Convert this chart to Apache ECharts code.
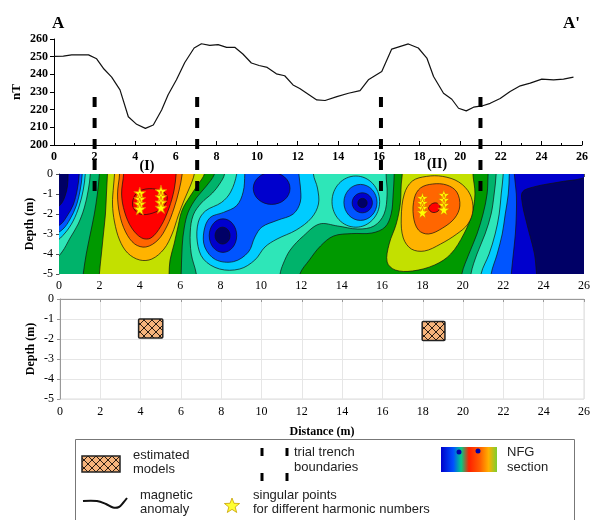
<!DOCTYPE html>
<html>
<head>
<meta charset="utf-8">
<script src="https://cdn.jsdelivr.net/npm/echarts@6/dist/echarts.min.js"></script>
<style>
html, body { margin: 0; padding: 0; background: #fff; }
#main { width: 593px; height: 520px; }
</style>
</head>
<body>
<div id="main"></div>
<script>
// magnetic anomaly along A-A' (distance in m, field in nT)
const magX = [0, 0.46, 0.87, 1.7, 2.1, 2.46, 2.84, 3.25, 3.66, 4.07, 4.5, 4.89, 5.3, 5.62, 6.03, 6.44, 6.9, 7.26, 7.67, 8.08, 8.5, 8.9, 9.3, 9.72, 10.1, 10.5, 10.95, 11.36, 11.77, 12.1, 12.94, 13.35, 13.93, 14.5, 15.07, 15.48, 16.14, 16.63, 17.45, 17.94, 18.36, 18.69, 19.18, 19.59, 19.92, 20.3, 20.66, 21.07, 21.48, 21.97, 22.46, 22.96, 23.45, 24.02, 24.6, 25.09, 25.58];
const magNT = [250.2, 250.3, 251, 251, 248.8, 243, 238.4, 231.2, 216, 211.7, 209.4, 211.3, 219.8, 228.4, 236.9, 246.7, 254.9, 257.3, 256.4, 256.8, 255.3, 255.3, 251.5, 246.4, 245, 243.9, 240.3, 239.2, 234, 232, 225.5, 225.2, 227.4, 229.3, 230.8, 236.9, 241.6, 254.3, 257.2, 254.9, 249.2, 238.8, 229.3, 225.9, 220.8, 219.3, 221.4, 222.1, 223.6, 226.3, 230.3, 233.5, 235, 237.3, 236.9, 237.3, 238.4];

// trial trench boundaries (m) and the nT span the dashed marks cover
const trenchX = [2, 7.05, 16.1, 21];
const trenchSpan = [227.2, 173.4];

// NFG section colour bands, low to high
const bandColors = ['#000066', '#0000CD', '#0055FF', '#00CCFF', '#2EE6B8', '#00B36B', '#009900', '#C3E000', '#FFB300', '#FF6600', '#FF0000', '#FF0000'];
const baseBand = 5;

// band outlines as [distance, depth] vertices (points outside the frame get clipped)
const low4L = [[-1, 1], [1.55, 1], [1.55, 0], [1.45, -0.8], [1.25, -1.7], [0.95, -2.5], [0.55, -3.2], [0.15, -3.9], [-0.3, -4.35], [-1, -4.6]];
const low3L = [[-1, 1], [1.3, 1], [1.3, 0], [1.2, -0.8], [1.0, -1.6], [0.7, -2.35], [0.3, -2.95], [-0.2, -3.4], [-1, -3.6]];
const low2L = [[-1, 1], [1.15, 1], [1.15, 0], [1.05, -0.8], [0.85, -1.6], [0.55, -2.25], [0.2, -2.75], [-0.3, -3.05], [-1, -3.15]];
const low1L = [[-1, 1], [1.0, 1], [1.0, 0], [0.9, -0.8], [0.7, -1.55], [0.4, -2.1], [0.1, -2.5], [-0.4, -2.75], [-1, -2.85]];
const low0L = [[-1, 1], [0.45, 1], [0.45, 0], [0.42, -0.6], [0.3, -1.1], [0.1, -1.5], [-0.3, -1.8], [-1, -1.9]];

const high6I = [[2.05, 1], [7.9, 1], [7.7, 0], [7.3, -0.6], [6.8, -1.2], [6.4, -1.9], [6.2, -2.7], [6.1, -3.6], [6.05, -5], [6.0, -6], [1.1, -6], [1.2, -5], [1.35, -4], [1.55, -3], [1.75, -2], [1.9, -1], [2.0, 0]];
const high7I = [[2.45, 1], [7.35, 1], [7.2, 0], [6.9, -0.5], [6.5, -1.1], [6.1, -1.8], [5.9, -2.6], [5.7, -3.5], [5.5, -4.3], [5.45, -5], [5.4, -6], [1.95, -6], [2.0, -5], [2.1, -4], [2.2, -3], [2.3, -2], [2.35, -1], [2.4, 0]];
const high8I = [[2.75, 1], [6.8, 1], [6.7, 0], [6.5, -0.6], [6.2, -1.3], [5.9, -2.1], [5.6, -3.0], [5.2, -3.75], [4.6, -4.25], [4.0, -4.3], [3.4, -3.95], [3.0, -3.3], [2.75, -2.4], [2.65, -1.5], [2.7, -0.6], [2.75, 0]];
const high9I = [[3.0, 1], [6.15, 1], [6.1, 0], [5.95, -0.8], [5.7, -1.7], [5.35, -2.6], [4.9, -3.3], [4.3, -3.65], [3.75, -3.5], [3.3, -2.9], [3.0, -2.0], [2.9, -1.0], [3.0, 0]];
const high10I = [[3.2, 1], [5.85, 1], [5.8, 0], [5.7, -0.8], [5.45, -1.7], [5.05, -2.6], [4.55, -3.2], [4.1, -3.2], [3.6, -2.7], [3.25, -1.9], [3.1, -1.0], [3.2, 0]];
const high11I = [[3.65, -1.6], [3.8, -1.0], [4.3, -0.75], [4.95, -0.8], [5.35, -1.1], [5.2, -1.6], [4.65, -1.95], [4.0, -2.0]];

const high6II = [[16.6, 1], [21.3, 1], [21.25, 0], [21.2, -1], [21.0, -2], [20.7, -3], [20.3, -4], [19.95, -5], [19.9, -6], [11.8, -6], [11.93, -5], [12.4, -4.3], [12.95, -3.6], [13.6, -3.1], [14.5, -2.98], [15.5, -2.95], [16.15, -2.65], [16.45, -2.0], [16.55, -1.0], [16.6, 0]];
const high7II = [[17.0, 1], [20.5, 1], [20.5, 0], [20.6, -1], [20.45, -2], [20.05, -3], [19.4, -4], [18.6, -4.55], [17.5, -4.85], [16.65, -4.8], [16.25, -4.4], [16.35, -3.5], [16.7, -2.5], [16.9, -1.5], [16.95, -0.5], [17.0, 0]];
const high8II = [[17.1, -1.0], [17.5, -0.35], [18.2, -0.12], [19.0, -0.12], [19.8, -0.4], [20.35, -1.0], [20.5, -1.8], [20.25, -2.5], [19.7, -3.0], [18.9, -3.5], [18.1, -3.85], [17.45, -3.75], [17.05, -3.2], [16.95, -2.2]];
const high9II = [[17.6, -1.2], [17.9, -0.7], [18.5, -0.5], [19.2, -0.55], [19.7, -0.9], [19.85, -1.6], [19.6, -2.2], [19.0, -2.7], [18.3, -3.0], [17.8, -2.8], [17.55, -2.1]];
const high10II = [[18.3, -1.72], [18.45, -1.5], [18.7, -1.45], [18.87, -1.6], [18.78, -1.85], [18.5, -1.92]];

const low4M = [[8.25, 1], [16.25, 1], [16.2, 0], [16.25, -1.0], [16.1, -2.0], [15.6, -2.6], [14.8, -2.75], [13.8, -2.6], [12.9, -2.5], [12.1, -3.1], [11.45, -3.8], [11.1, -4.5], [10.95, -5], [10.9, -6], [6.85, -6], [6.8, -5], [6.55, -4.0], [6.5, -2.9], [6.65, -2.05], [7.05, -1.45], [7.6, -0.95], [7.95, -0.5], [8.2, 0]];
const low3M = [[8.85, 1], [12.65, 1], [12.6, 0], [12.8, -0.7], [12.85, -1.5], [12.5, -2.2], [11.75, -2.8], [10.8, -3.25], [10.2, -3.65], [9.7, -4.3], [8.95, -4.75], [7.95, -4.75], [7.15, -4.25], [6.85, -3.4], [6.9, -2.4], [7.25, -1.85], [8.05, -1.42], [8.5, -0.9], [8.8, 0]];
const low2M = [[9.2, 1], [11.9, 1], [11.88, 0], [11.95, -0.6], [11.95, -1.4], [11.6, -2.0], [10.8, -2.32], [10.05, -2.65], [9.7, -3.15], [9.38, -3.9], [8.65, -4.38], [7.75, -4.28], [7.22, -3.65], [7.18, -2.85], [7.48, -2.18], [8.15, -1.92], [8.8, -1.58], [9.12, -0.9], [9.2, 0]];

const low4R = [[21.65, 1], [27, 1], [27, -6], [20.35, -6], [20.4, -5], [20.7, -4], [21.1, -3], [21.4, -2], [21.55, -1], [21.65, 0]];
const low3R = [[22.0, 1], [27, 1], [27, -6], [20.85, -6], [20.9, -5], [21.3, -4], [21.6, -3], [21.8, -2], [21.9, -1], [22.0, 0]];
const low2R = [[22.3, 1], [27, 1], [27, -6], [21.35, -6], [21.4, -5], [21.7, -4], [21.95, -3], [22.1, -2], [22.25, -1], [22.3, 0]];
const low1R = [[22.55, 1], [27, 1], [27, -6], [22.35, -6], [22.4, -5], [22.5, -4], [22.6, -3], [22.65, -2], [22.65, -1], [22.55, 0]];
const low0R = [[22.95, -0.9], [23.5, -0.65], [24.5, -0.45], [25.5, -0.3], [27, -0.2], [27, -6], [23.75, -6], [23.65, -5], [23.55, -4], [23.3, -3], [23.1, -2.2], [22.95, -1.5]];

// closed lows: [centre x, centre depth, radius x, radius depth, band]
const lowBlobs = [
  [10.53, -0.72, 0.91, 0.8, 1],
  [8.12, -3.08, 0.68, 0.84, 1],
  [8.1, -3.08, 0.37, 0.42, 0],
  [14.7, -1.38, 1.18, 1.28, 3],
  [14.93, -1.42, 0.82, 0.9, 2],
  [15.02, -1.44, 0.5, 0.5, 1],
  [15.03, -1.45, 0.23, 0.23, 0]
];

const bandShapes = [
  [4, low4L], [3, low3L], [2, low2L], [1, low1L], [0, low0L],
  [6, high6I], [7, high7I], [8, high8I], [9, high9I], [10, high10I], [11, high11I],
  [6, high6II], [7, high7II], [8, high8II], [9, high9II], [10, high10II],
  [4, low4M], [3, low3M], [2, low2M],
  [4, low4R], [3, low3R], [2, low2R], [1, low1R], [0, low0R]
];

// singular points (distance, depth)
const singularPts = [
  [4.0, -0.95], [4.0, -1.25], [4.0, -1.5], [4.0, -1.75],
  [5.05, -0.85], [5.05, -1.15], [5.05, -1.42], [5.05, -1.68],
  [18.0, -1.2], [18.0, -1.45], [18.0, -1.7], [18.0, -1.92],
  [19.06, -1.05], [19.06, -1.3], [19.06, -1.55], [19.06, -1.78]
];

// estimated models: [x from, x to, depth top, depth bottom]
const modelBoxes = [[3.9, 5.1, -1.0, -1.95], [17.97, 19.1, -1.12, -2.08]];

// draw order: base, highs going up, then lows going down
const layers = [{ band: baseBand, pts: [[-1, 1], [27, 1], [27, -6], [-1, -6]], base: true }];
bandShapes.forEach(s => layers.push({ band: s[0], pts: s[1] }));
lowBlobs.forEach(b => layers.push({ band: b[4], ell: b }));
const orderKey = l => l.base ? -1 : (l.band > baseBand ? l.band : 100 - l.band);
layers.sort((a, b) => orderKey(a) - orderKey(b));

const SERIF = 'Liberation Serif';
const starPath = 'path://M50,0 L61,35 L98,35 L68,57 L79,91 L50,70 L21,91 L32,57 L2,35 L39,35 Z';

function hatch() {
  const c = document.createElement('canvas');
  c.width = 8; c.height = 8;
  const g = c.getContext('2d');
  g.fillStyle = '#F6B47C';
  g.fillRect(0, 0, 8, 8);
  g.strokeStyle = '#2b1d12';
  g.lineWidth = 1;
  g.beginPath();
  g.moveTo(0, 0); g.lineTo(8, 8);
  g.moveTo(8, 0); g.lineTo(0, 8);
  g.stroke();
  return c;
}
const hatchFill = { image: hatch(), repeat: 'repeat' };

function starPoints(cx, cy, r) {
  const pts = [];
  for (let i = 0; i < 10; i++) {
    const a = -Math.PI / 2 + i * Math.PI / 5;
    const rr = i % 2 ? r * 0.42 : r;
    pts.push([cx + rr * Math.cos(a), cy + rr * Math.sin(a)]);
  }
  return pts;
}

const label = (bold) => ({ fontFamily: SERIF, fontSize: 12, color: '#000', fontWeight: bold ? 'bold' : 'normal' });

const chart = echarts.init(document.getElementById('main'));

chart.setOption({
  animation: false,
  grid: [
    { left: 54, top: 39, width: 528, height: 106 },
    { left: 59, top: 174, width: 526, height: 100 },
    { left: 60, top: 299, width: 527, height: 100, show: true, borderColor: '#dcdcdc', borderWidth: 1 }
  ],
  xAxis: [
    {
      gridIndex: 0, type: 'value', min: 0, max: 26, interval: 2,
      axisLine: { lineStyle: { color: '#000' } },
      axisTick: { inside: true, length: 4, lineStyle: { color: '#000' } },
      minorTick: { show: true, splitNumber: 2, length: 2, lineStyle: { color: '#000' } },
      axisLabel: Object.assign({ margin: 6 }, label(true)),
      splitLine: { show: false }
    },
    {
      gridIndex: 1, type: 'value', min: 0, max: 26, interval: 2,
      axisLine: { lineStyle: { color: '#555' } },
      axisTick: { length: 3, lineStyle: { color: '#555' } },
      axisLabel: Object.assign({ margin: 6 }, label(false)),
      splitLine: { show: false }
    },
    {
      gridIndex: 2, type: 'value', min: 0, max: 26, interval: 2,
      axisLine: { lineStyle: { color: '#999' } },
      axisTick: { length: 3, lineStyle: { color: '#999' } },
      axisLabel: Object.assign({ margin: 7 }, label(false)),
      splitLine: { show: true, lineStyle: { color: '#e6e6e6' } },
      name: 'Distance (m)', nameLocation: 'middle', nameGap: 27, nameMoveOverlap: false,
      nameTextStyle: label(true)
    }
  ],
  yAxis: [
    {
      gridIndex: 0, type: 'value', min: 200, max: 260, interval: 10,
      axisLine: { show: true, lineStyle: { color: '#000' } },
      axisTick: { show: true, length: 4, lineStyle: { color: '#000' } },
      axisLabel: Object.assign({ margin: 6 }, label(true)),
      splitLine: { show: false },
      name: 'nT', nameLocation: 'middle', nameGap: 31, nameRotate: 90, nameMoveOverlap: false,
      nameTextStyle: Object.assign(label(true), { fontSize: 13 })
    },
    {
      gridIndex: 1, type: 'value', min: -5, max: 0, interval: 1,
      axisLine: { show: true, lineStyle: { color: '#555' } },
      axisTick: { show: true, length: 3, lineStyle: { color: '#555' } },
      axisLabel: Object.assign({ margin: 6 }, label(false)),
      splitLine: { show: false },
      name: 'Depth (m)', nameLocation: 'middle', nameGap: 23, nameRotate: 90, nameMoveOverlap: false,
      nameTextStyle: label(true)
    },
    {
      gridIndex: 2, type: 'value', min: -5, max: 0, interval: 1,
      axisLine: { show: true, lineStyle: { color: '#999' } },
      axisTick: { show: true, length: 3, lineStyle: { color: '#999' } },
      axisLabel: Object.assign({ margin: 6 }, label(false)),
      splitLine: { show: true, lineStyle: { color: '#e6e6e6' } },
      name: 'Depth (m)', nameLocation: 'middle', nameGap: 23, nameRotate: 90, nameMoveOverlap: false,
      nameTextStyle: label(true)
    }
  ],
  series: [
    {
      type: 'line', xAxisIndex: 0, yAxisIndex: 0,
      data: magX.map((x, i) => [x, magNT[i]]),
      showSymbol: false, lineStyle: { color: '#111', width: 1.2 }, z: 3
    },
    {
      type: 'custom', xAxisIndex: 1, yAxisIndex: 1, clip: true, z: 2,
      data: layers.map((l, i) => [i]),
      renderItem: function (params, api) {
        const l = layers[params.dataIndex];
        const style = { fill: bandColors[l.band], stroke: l.base ? null : '#111', lineWidth: 0.7 };
        if (l.ell) {
          const c = api.coord([l.ell[0], l.ell[1]]);
          const s = api.size([l.ell[2], l.ell[3]]);
          return { type: 'ellipse', shape: { cx: c[0], cy: c[1], rx: s[0], ry: s[1] }, style: style };
        }
        return {
          type: 'polygon',
          shape: { points: l.pts.map(p => api.coord(p)), smooth: l.base ? 0 : 0.35 },
          style: style
        };
      }
    },
    {
      type: 'scatter', xAxisIndex: 1, yAxisIndex: 1, z: 4,
      data: singularPts, symbol: starPath, symbolSize: 12,
      itemStyle: { color: '#FFFF00', borderColor: '#E86A00', borderWidth: 0.8, opacity: 1 }
    },
    {
      type: 'custom', xAxisIndex: 0, yAxisIndex: 0, z: 10,
      data: trenchX.map(x => [x]),
      renderItem: function (params, api) {
        const x = trenchX[params.dataIndex];
        const a = api.coord([x, trenchSpan[0]]);
        const b = api.coord([x, trenchSpan[1]]);
        return {
          type: 'line',
          shape: { x1: a[0], y1: a[1], x2: b[0], y2: b[1] },
          style: { stroke: '#000', lineWidth: 4, lineDash: [10, 11] }
        };
      }
    },
    {
      type: 'custom', xAxisIndex: 2, yAxisIndex: 2, z: 3,
      data: modelBoxes.map(b => [b[0], b[2]]),
      renderItem: function (params, api) {
        const b = modelBoxes[params.dataIndex];
        const p0 = api.coord([b[0], b[2]]);
        const p1 = api.coord([b[1], b[3]]);
        return {
          type: 'rect',
          shape: { x: p0[0], y: p0[1], width: p1[0] - p0[0], height: p1[1] - p0[1], r: 1 },
          style: { fill: hatchFill, stroke: '#222', lineWidth: 1.5 }
        };
      }
    }
  ],
  graphic: [
    { type: 'text', x: 52, y: 15, style: { text: 'A', font: 'bold 17px "Liberation Serif"', fill: '#000' } },
    { type: 'text', x: 563, y: 15, style: { text: "A'", font: 'bold 17px "Liberation Serif"', fill: '#000' } },
    { type: 'text', x: 147, y: 166, style: { text: '(I)', font: 'bold 14px "Liberation Serif"', fill: '#000', align: 'center', verticalAlign: 'middle' } },
    { type: 'text', x: 437, y: 164, style: { text: '(II)', font: 'bold 14px "Liberation Serif"', fill: '#000', align: 'center', verticalAlign: 'middle' } },

    // legend box
    { type: 'rect', shape: { x: 75.5, y: 439.5, width: 499, height: 100 }, style: { fill: 'none', stroke: '#777', lineWidth: 1 } },
    { type: 'rect', shape: { x: 82, y: 456, width: 38, height: 16 }, style: { fill: hatchFill, stroke: '#222', lineWidth: 1.5 } },
    { type: 'rect', shape: { x: 260.5, y: 448, width: 3, height: 8 }, style: { fill: '#000' } },
    { type: 'rect', shape: { x: 285.5, y: 448, width: 3, height: 8 }, style: { fill: '#000' } },
    { type: 'rect', shape: { x: 260.5, y: 473, width: 3, height: 8 }, style: { fill: '#000' } },
    { type: 'rect', shape: { x: 285.5, y: 473, width: 3, height: 8 }, style: { fill: '#000' } },
    {
      type: 'rect', shape: { x: 441, y: 447, width: 56, height: 25 },
      style: {
        fill: new echarts.graphic.LinearGradient(0, 0, 1, 0, [
          { offset: 0, color: '#0000CC' }, { offset: 0.22, color: '#0050FF' },
          { offset: 0.36, color: '#00CC88' }, { offset: 0.5, color: '#FF2000' },
          { offset: 0.7, color: '#FF6000' }, { offset: 0.85, color: '#FFB000' },
          { offset: 1, color: '#7CCF30' }
        ])
      }
    },
    { type: 'circle', shape: { cx: 459, cy: 452, r: 2.5 }, style: { fill: '#0000AA' } },
    { type: 'circle', shape: { cx: 478, cy: 451, r: 2.5 }, style: { fill: '#0000AA' } },
    { type: 'polyline', shape: { points: [[83, 501], [97, 501], [106, 504], [113, 507.5], [119, 507], [123, 503], [127, 498]], smooth: 0.4 }, style: { stroke: '#111', lineWidth: 2, fill: null } },
    { type: 'polygon', shape: { points: starPoints(232, 506, 8) }, style: { fill: '#FFFF33', stroke: '#C8A000', lineWidth: 0.8 } },

    { type: 'text', x: 133, y: 455, style: { text: 'estimated', font: '13px "Liberation Sans"', fill: '#222', verticalAlign: 'middle' } },
    { type: 'text', x: 133, y: 469, style: { text: 'models', font: '13px "Liberation Sans"', fill: '#222', verticalAlign: 'middle' } },
    { type: 'text', x: 294, y: 452, style: { text: 'trial trench', font: '13px "Liberation Sans"', fill: '#222', verticalAlign: 'middle' } },
    { type: 'text', x: 294, y: 467, style: { text: 'boundaries', font: '13px "Liberation Sans"', fill: '#222', verticalAlign: 'middle' } },
    { type: 'text', x: 507, y: 452, style: { text: 'NFG', font: '13px "Liberation Sans"', fill: '#222', verticalAlign: 'middle' } },
    { type: 'text', x: 507, y: 467, style: { text: 'section', font: '13px "Liberation Sans"', fill: '#222', verticalAlign: 'middle' } },
    { type: 'text', x: 140, y: 495, style: { text: 'magnetic', font: '13px "Liberation Sans"', fill: '#222', verticalAlign: 'middle' } },
    { type: 'text', x: 140, y: 509, style: { text: 'anomaly', font: '13px "Liberation Sans"', fill: '#222', verticalAlign: 'middle' } },
    { type: 'text', x: 253, y: 495, style: { text: 'singular points', font: '13px "Liberation Sans"', fill: '#222', verticalAlign: 'middle' } },
    { type: 'text', x: 253, y: 509, style: { text: 'for different harmonic numbers', font: '13px "Liberation Sans"', fill: '#222', verticalAlign: 'middle' } }
  ]
});
</script>
</body>
</html>
